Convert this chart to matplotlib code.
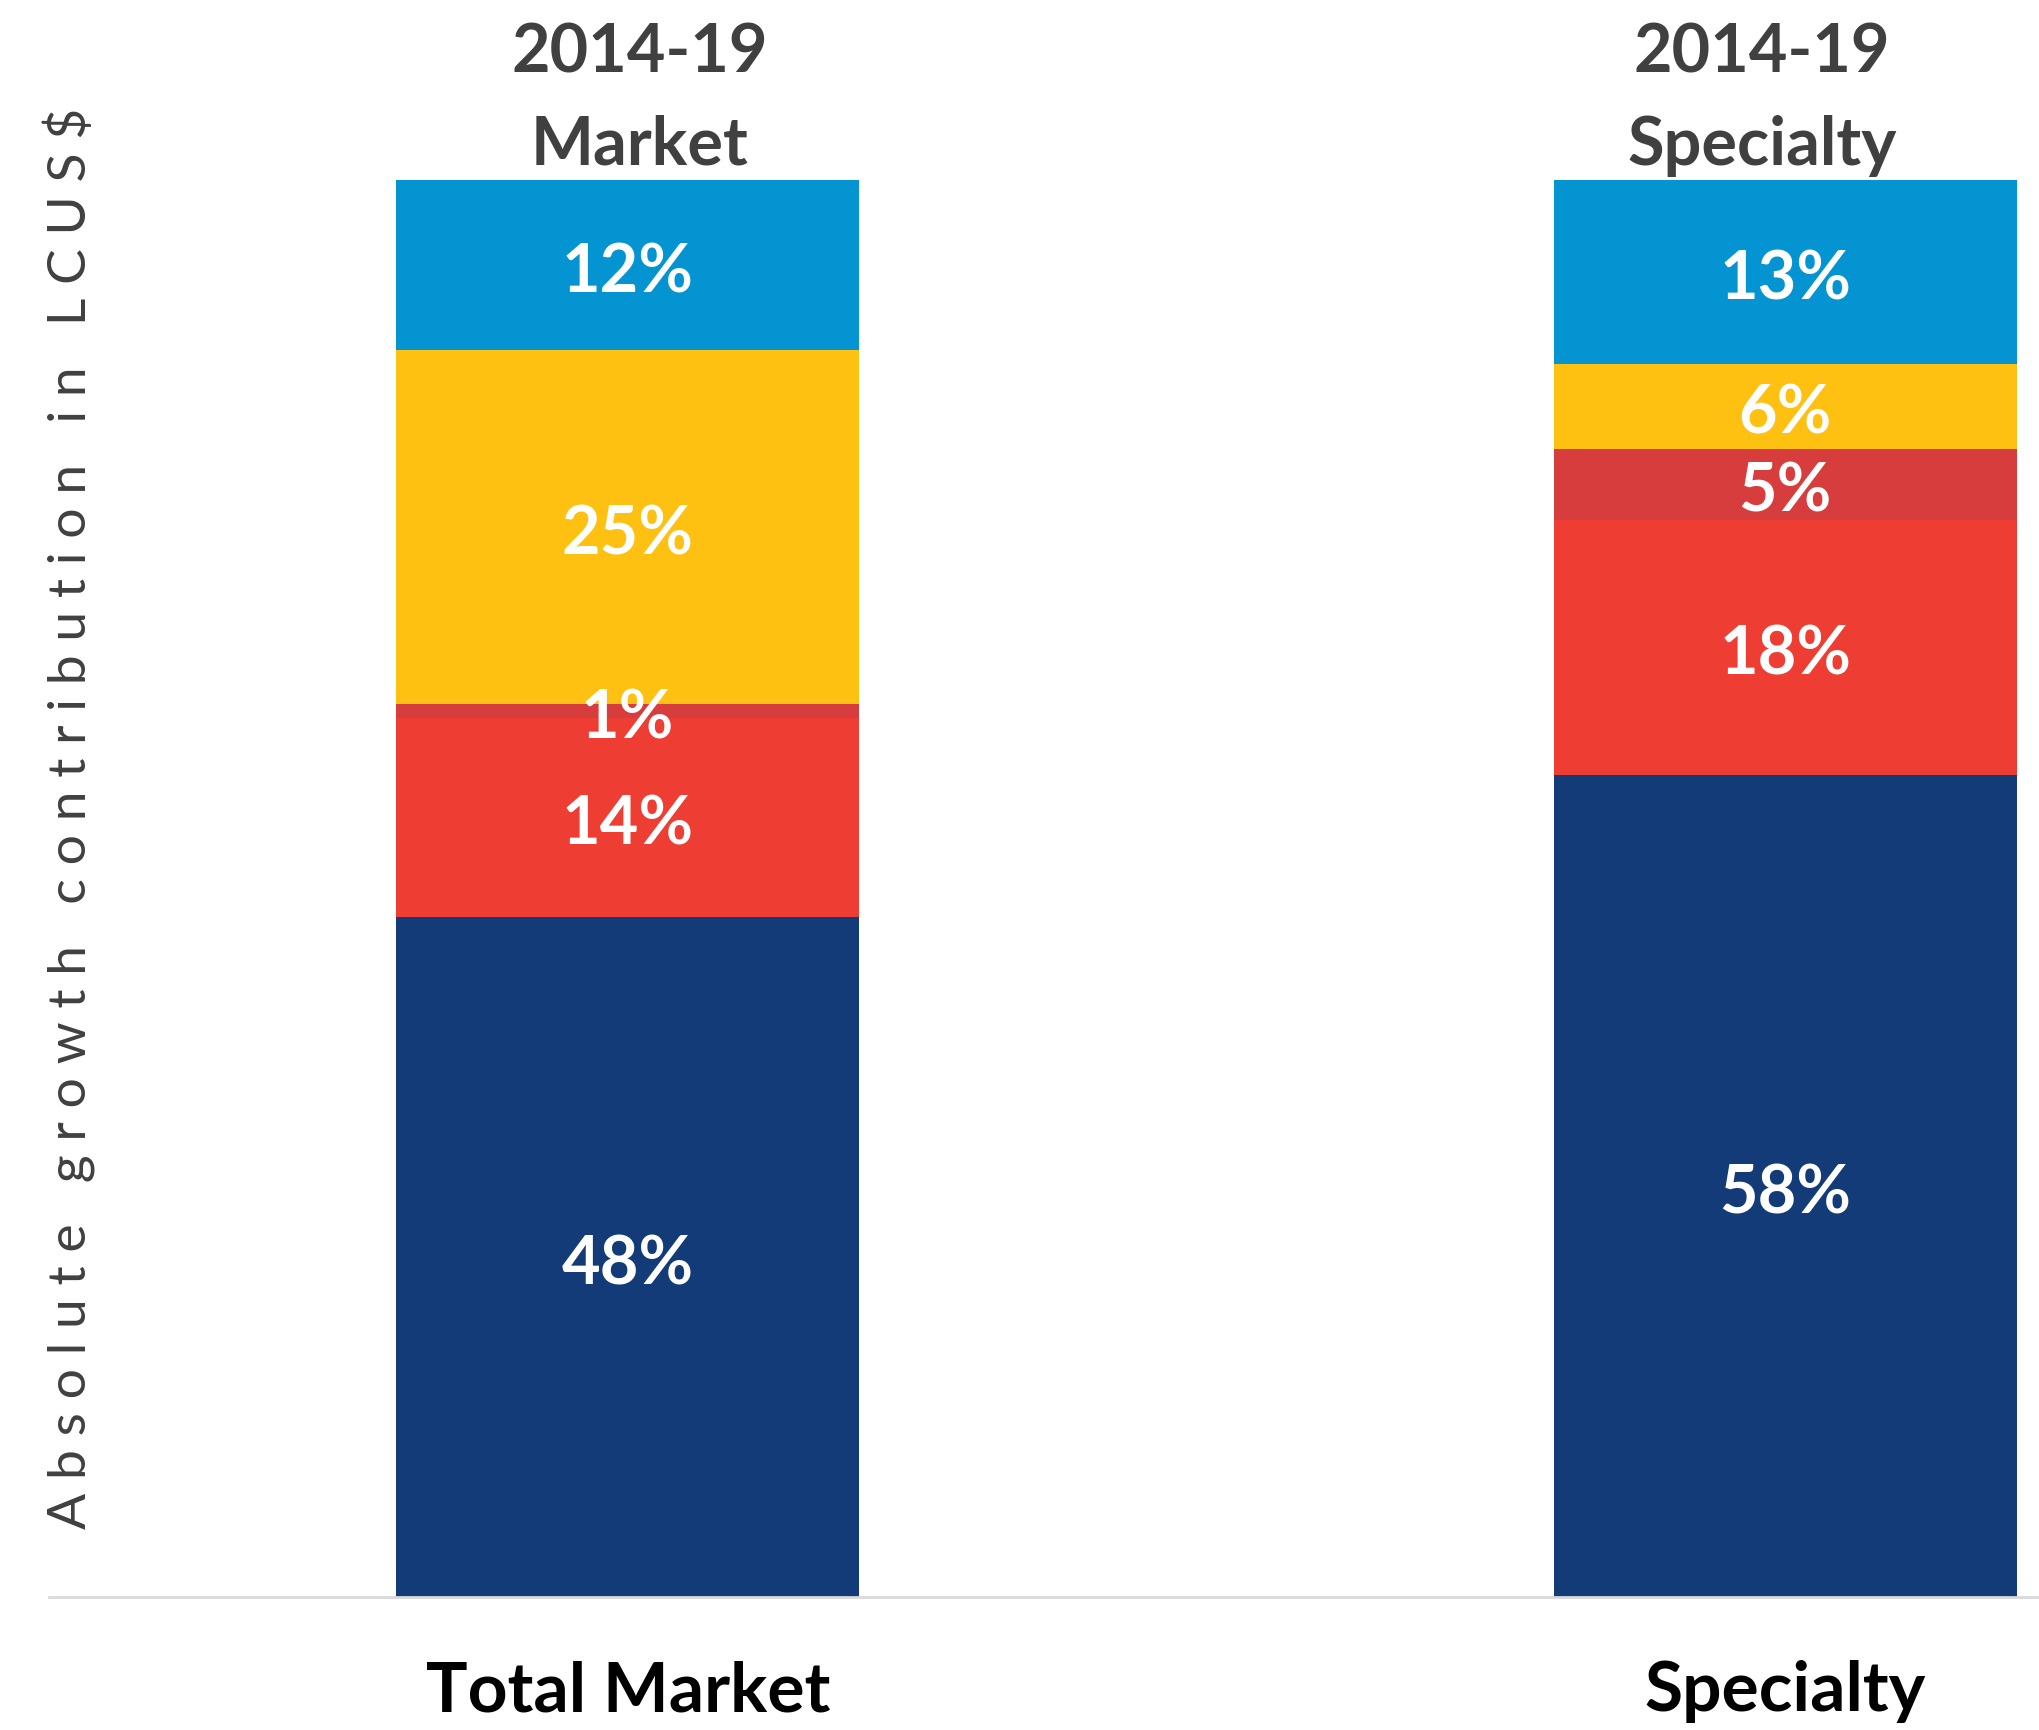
import matplotlib.pyplot as plt
import numpy as np

# dane
kategorie = ['Total Market', 'Specialty']
naglowki_gora = ['2014-19', '2014-19']
naglowki_dol = ['Market', 'Specialty']
# segmenty od dołu do góry
granatowy = [48, 58]
czerwony = [14, 18]
ciemnoczerwony = [1, 5]
zolty = [25, 6]
niebieski = [12, 13]

serie = [granatowy, czerwony, ciemnoczerwony, zolty, niebieski]
kolory = ['#123B77', '#EE3D32', '#D73D3C', '#FEC111', '#0394D1']

plt.rcParams['font.family'] = ['Lato', 'DejaVu Sans']

fig = plt.figure(figsize=(20.4, 17.31), dpi=100)
ax = fig.add_axes([49 / 2040, 1 - 1598 / 1731, 1 - 49 / 2040, (1598 - 181) / 1731])

x = np.arange(len(kategorie))
dol = np.zeros(len(kategorie))
for wartosci, kolor in zip(serie, kolory):
    wartosci = np.array(wartosci, dtype=float)
    ax.bar(x, wartosci, bottom=dol, width=0.4, color=kolor, linewidth=0)
    for xi, d, v in zip(x, dol, wartosci):
        ax.text(xi, d + v / 2 - 0.5, f'{v:.0f}%', ha='center', va='center',
                color='white', fontsize=48, fontweight='bold')
    dol += wartosci

ax.set_xlim(-0.5, 1.22)
ax.set_ylim(0, 100)
for s in ['top', 'right', 'left']:
    ax.spines[s].set_visible(False)
ax.spines['bottom'].set_color('#D9D9D9')
ax.spines['bottom'].set_linewidth(2)
ax.set_yticks([])
ax.set_xticks(x)
ax.set_xticklabels(kategorie, fontsize=50, fontweight='bold', color='black')
ax.tick_params(axis='x', length=0, pad=45)

# nagłówki nad słupkami
for xi, g, d in zip([0.01, 0.98], naglowki_gora, naglowki_dol):
    ax.text(xi, 109.0, g, ha='center', va='center', fontsize=48,
            fontweight='bold', color='#404040', clip_on=False)
    ax.text(xi, 102.5, d, ha='center', va='center', fontsize=48,
            fontweight='bold', color='#404040', clip_on=False)

ylabel = '   '.join(' '.join(slowo) for slowo in 'Absolute growth contribution in LCUS$'.split())
fig.text(70 / 2040, 1 - 818 / 1731, ylabel, rotation=90, ha='center', va='center',
         fontsize=38.5, fontweight='normal', color='#404040')

fig.savefig('out.png', dpi=100)
